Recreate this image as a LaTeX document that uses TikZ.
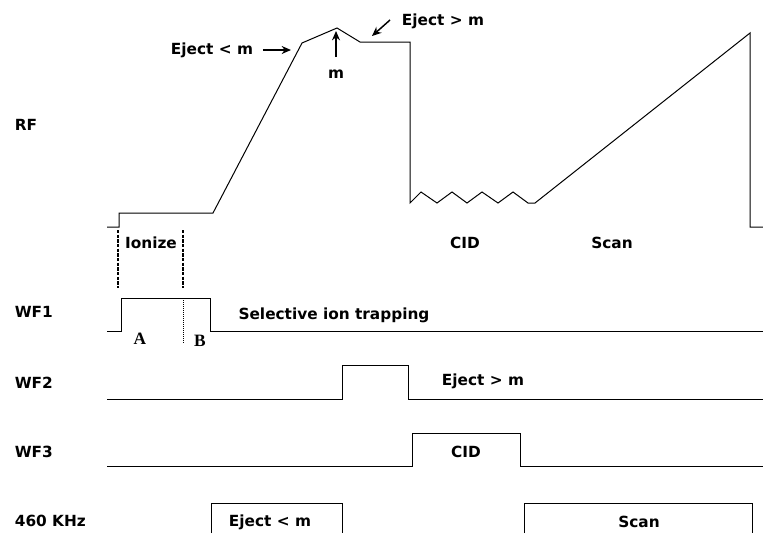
\documentclass[tikz,border=0pt]{standalone}
\usepackage{fontspec}
\setmainfont{DejaVu Sans}
\newfontfamily\abfont{Liberation Serif}
\usetikzlibrary{arrows.meta}

\begin{document}
\begin{tikzpicture}[x=0.75pt,y=-0.75pt,line width=0.75pt,
  lbl/.style={font=\bfseries\fontsize{11.5}{12}\selectfont,inner sep=1pt},
  ab/.style={font=\abfont\bfseries\fontsize{13}{13}\selectfont,inner sep=1pt},
  pointer/.style={-{Stealth[length=7pt,width=6pt]},line width=1.1pt},
  bound/.style={line width=1.5pt,dash pattern=on 2.4pt off 1.1pt}]
\useasboundingbox (0,0) rectangle (763,533);
% ---- channel names ----
\foreach \n/\y/\t in {rf/125/RF, wfa/312/WF1, wfb/383/WF2, wfc/452/WF3, khz/521/460 KHz}
  \node[lbl,anchor=west] (\n) at (13,\y) {\t};
% ---- RF trace ----
\draw (107,227) -- (119,227) -- (119,213) -- (213,213) -- (302,43) -- (337,28)
  -- (360,42) -- (410,42) -- (410,203)
  -- (421,192) -- (437,203) -- (452,192) -- (467,203)
  -- (482,192) -- (498,203) -- (513,192) -- (528,203)
  -- (535,203) -- (750,33) -- (750,227) -- (763,227);
% ---- RF annotations ----
\node[lbl] (ejlo) at (212,50) {Eject < m};
\coordinate (ejlotip) at (291,51);
\draw[pointer,shorten <=6pt] (ejlo.east) -- (ejlo.east -| ejlotip);
\node[lbl] (mlbl) at (336,74) {m};
\coordinate (mtip) at (336,31);
\draw[pointer,shorten <=8pt] (mlbl) -- (mtip);
\node[lbl] (ejhi) at (443,21) {Eject > m};
\coordinate (ejhitail) at (390,20);
\coordinate (ejhitip) at (372,36);
\draw[pointer] (ejhitail) -- (ejhitip);
\node[lbl] (ion) at (151,243) {Ionize};
\node[lbl] (cidrf) at (465,243) {CID};
\node[lbl] (scanrf) at (612,243) {Scan};
\foreach \x in {118,183} \draw[bound] (\x,230) -- (\x,288);
% ---- WF1 ----
\draw (107,331) -- (121,331) -- (121,298) -- (210,298) -- (210,331) -- (763,331);
\draw[densely dotted,line width=0.5pt] (183,298) -- (183,343);
\node[ab] (pa) at (140,339) {A};
\node[ab] (pb) at (200,341) {B};
\node[lbl] (sel) at (334,315) {Selective ion trapping};
% ---- WF2 ----
\draw (107,399) -- (342,399) -- (342,365) -- (408,365) -- (408,399) -- (763,399);
\node[lbl] (ejwf) at (483,381) {Eject > m};
% ---- WF3 ----
\draw (107,466) -- (412,466) -- (412,433) -- (520,433) -- (520,466) -- (763,466);
\node[lbl] (cidwf) at (466,452) {CID};
% ---- 460 KHz ----
\draw (211,533) -- (211,503) -- (342,503) -- (342,533);
\draw (524,533) -- (524,503) -- (752,503) -- (752,533);
\node[lbl] (ejkhz) at (270,522) {Eject < m};
\node[lbl] (scankhz) at (639,522) {Scan};
\end{tikzpicture}
\end{document}
